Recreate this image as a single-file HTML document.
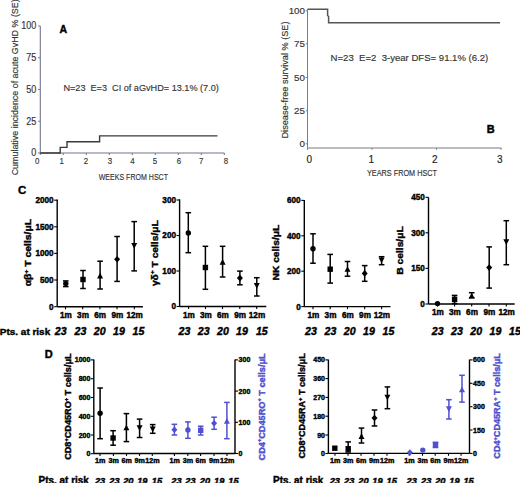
<!DOCTYPE html>
<html><head><meta charset="utf-8"><style>
html,body{margin:0;padding:0;background:#fff;width:520px;height:483px;overflow:hidden;font-family:"Liberation Sans", sans-serif;}
</style></head><body>
<svg width="520" height="483" viewBox="0 0 520 483" style="position:absolute;left:0;top:0;font-family:&quot;Liberation Sans&quot;, sans-serif">
<rect width="520" height="483" fill="#fff"/>
<line x1="40.3" y1="26.0" x2="40.3" y2="153.5" stroke="#74748e" stroke-width="1.1"/>
<line x1="40.3" y1="153.0" x2="224.3" y2="153.0" stroke="#74748e" stroke-width="1.1"/>
<line x1="38.1" y1="153.0" x2="40.3" y2="153.0" stroke="#74748e" stroke-width="1"/>
<text x="36.2" y="156.3" font-size="10.4" font-weight="normal" text-anchor="end" fill="#333" font-style="normal" stroke="#333" stroke-width="0.15" textLength="5.0" lengthAdjust="spacingAndGlyphs" >0</text>
<line x1="38.1" y1="121.25" x2="40.3" y2="121.25" stroke="#74748e" stroke-width="1"/>
<text x="36.2" y="124.55" font-size="10.4" font-weight="normal" text-anchor="end" fill="#333" font-style="normal" stroke="#333" stroke-width="0.15" textLength="10.0" lengthAdjust="spacingAndGlyphs" >25</text>
<line x1="38.1" y1="89.5" x2="40.3" y2="89.5" stroke="#74748e" stroke-width="1"/>
<text x="36.2" y="92.8" font-size="10.4" font-weight="normal" text-anchor="end" fill="#333" font-style="normal" stroke="#333" stroke-width="0.15" textLength="10.0" lengthAdjust="spacingAndGlyphs" >50</text>
<line x1="38.1" y1="57.75" x2="40.3" y2="57.75" stroke="#74748e" stroke-width="1"/>
<text x="36.2" y="61.05" font-size="10.4" font-weight="normal" text-anchor="end" fill="#333" font-style="normal" stroke="#333" stroke-width="0.15" textLength="10.0" lengthAdjust="spacingAndGlyphs" >75</text>
<line x1="38.1" y1="26.0" x2="40.3" y2="26.0" stroke="#74748e" stroke-width="1"/>
<text x="36.2" y="29.3" font-size="10.4" font-weight="normal" text-anchor="end" fill="#333" font-style="normal" stroke="#333" stroke-width="0.15" textLength="15.0" lengthAdjust="spacingAndGlyphs" >100</text>
<line x1="40.3" y1="153.0" x2="40.3" y2="155.0" stroke="#74748e" stroke-width="1"/>
<text x="37.2" y="164.4" font-size="9.2" font-weight="normal" text-anchor="middle" fill="#333" font-style="normal" stroke="#333" stroke-width="0.15" textLength="4.4" lengthAdjust="spacingAndGlyphs" >0</text>
<line x1="63.3" y1="153.0" x2="63.3" y2="155.0" stroke="#74748e" stroke-width="1"/>
<text x="61.6" y="164.4" font-size="9.2" font-weight="normal" text-anchor="middle" fill="#333" font-style="normal" stroke="#333" stroke-width="0.15" textLength="4.4" lengthAdjust="spacingAndGlyphs" >1</text>
<line x1="86.3" y1="153.0" x2="86.3" y2="155.0" stroke="#74748e" stroke-width="1"/>
<text x="85.9" y="164.4" font-size="9.2" font-weight="normal" text-anchor="middle" fill="#333" font-style="normal" stroke="#333" stroke-width="0.15" textLength="4.4" lengthAdjust="spacingAndGlyphs" >2</text>
<line x1="109.3" y1="153.0" x2="109.3" y2="155.0" stroke="#74748e" stroke-width="1"/>
<text x="110.0" y="164.4" font-size="9.2" font-weight="normal" text-anchor="middle" fill="#333" font-style="normal" stroke="#333" stroke-width="0.15" textLength="4.4" lengthAdjust="spacingAndGlyphs" >3</text>
<line x1="132.3" y1="153.0" x2="132.3" y2="155.0" stroke="#74748e" stroke-width="1"/>
<text x="132.4" y="164.4" font-size="9.2" font-weight="normal" text-anchor="middle" fill="#333" font-style="normal" stroke="#333" stroke-width="0.15" textLength="4.4" lengthAdjust="spacingAndGlyphs" >4</text>
<line x1="155.3" y1="153.0" x2="155.3" y2="155.0" stroke="#74748e" stroke-width="1"/>
<text x="154.9" y="164.4" font-size="9.2" font-weight="normal" text-anchor="middle" fill="#333" font-style="normal" stroke="#333" stroke-width="0.15" textLength="4.4" lengthAdjust="spacingAndGlyphs" >5</text>
<line x1="178.3" y1="153.0" x2="178.3" y2="155.0" stroke="#74748e" stroke-width="1"/>
<text x="179.0" y="164.4" font-size="9.2" font-weight="normal" text-anchor="middle" fill="#333" font-style="normal" stroke="#333" stroke-width="0.15" textLength="4.4" lengthAdjust="spacingAndGlyphs" >6</text>
<line x1="201.3" y1="153.0" x2="201.3" y2="155.0" stroke="#74748e" stroke-width="1"/>
<text x="201.1" y="164.4" font-size="9.2" font-weight="normal" text-anchor="middle" fill="#333" font-style="normal" stroke="#333" stroke-width="0.15" textLength="4.4" lengthAdjust="spacingAndGlyphs" >7</text>
<line x1="224.3" y1="153.0" x2="224.3" y2="155.0" stroke="#74748e" stroke-width="1"/>
<text x="226.0" y="164.4" font-size="9.2" font-weight="normal" text-anchor="middle" fill="#333" font-style="normal" stroke="#333" stroke-width="0.15" textLength="4.4" lengthAdjust="spacingAndGlyphs" >8</text>
<text x="98.7" y="180.2" font-size="8.6" font-weight="normal" text-anchor="start" fill="#333" font-style="normal" stroke="#333" stroke-width="0.15" textLength="69.3" lengthAdjust="spacingAndGlyphs" >WEEKS FROM HSCT</text>
<text x="59.6" y="33.4" font-size="10.5" font-weight="bold" text-anchor="start" fill="#000" font-style="normal" stroke="#000" stroke-width="0.4" >A</text>
<text x="63.4" y="90.5" font-size="9.4" font-weight="normal" text-anchor="start" fill="#333" font-style="normal" stroke="#333" stroke-width="0.15" textLength="155.4" lengthAdjust="spacingAndGlyphs" xml:space="preserve">N=23&#160;&#160;E=3&#160;&#160;CI of aGvHD= 13.1% (7.0)</text>
<text transform="translate(17.6,87.3) rotate(-90)" x="0" y="0" font-size="8.8" font-weight="normal" text-anchor="middle" fill="#333" stroke="#333" stroke-width="0.15" textLength="176" lengthAdjust="spacingAndGlyphs">Cumulative incidence of acute GvHD % (SE)</text>
<polyline points="40.3,153.0 60.2,153.0 60.2,147.4 67.0,147.4 67.0,141.7 99.6,141.7 99.6,135.9 217.5,135.9" fill="none" stroke="#3a3a3a" stroke-width="1.4"/>
<line x1="307.5" y1="9.3" x2="307.5" y2="148.0" stroke="#7c7c8c" stroke-width="1"/>
<line x1="307.5" y1="148.0" x2="501.5" y2="148.0" stroke="#a4a4ac" stroke-width="1.5"/>
<line x1="305.7" y1="10.8" x2="307.5" y2="10.8" stroke="#7c7c8c" stroke-width="1"/>
<text x="305.0" y="14.3" font-size="9.8" font-weight="normal" text-anchor="end" fill="#333" font-style="normal" stroke="#333" stroke-width="0.15" >100</text>
<line x1="305.7" y1="43.8" x2="307.5" y2="43.8" stroke="#7c7c8c" stroke-width="1"/>
<text x="305.0" y="47.3" font-size="9.8" font-weight="normal" text-anchor="end" fill="#333" font-style="normal" stroke="#333" stroke-width="0.15" >75</text>
<line x1="305.7" y1="77.5" x2="307.5" y2="77.5" stroke="#7c7c8c" stroke-width="1"/>
<text x="305.0" y="81.0" font-size="9.8" font-weight="normal" text-anchor="end" fill="#333" font-style="normal" stroke="#333" stroke-width="0.15" >50</text>
<line x1="305.7" y1="110.8" x2="307.5" y2="110.8" stroke="#7c7c8c" stroke-width="1"/>
<text x="305.0" y="114.3" font-size="9.8" font-weight="normal" text-anchor="end" fill="#333" font-style="normal" stroke="#333" stroke-width="0.15" >25</text>
<line x1="305.7" y1="143.8" x2="307.5" y2="143.8" stroke="#7c7c8c" stroke-width="1"/>
<text x="305.0" y="147.3" font-size="9.8" font-weight="normal" text-anchor="end" fill="#333" font-style="normal" stroke="#333" stroke-width="0.15" >0</text>
<line x1="307.5" y1="148.0" x2="307.5" y2="149.8" stroke="#7c7c8c" stroke-width="1"/>
<text x="309.2" y="162.8" font-size="10" font-weight="normal" text-anchor="middle" fill="#222" font-style="normal" stroke="#222" stroke-width="0.15" >0</text>
<line x1="372" y1="148.0" x2="372" y2="149.8" stroke="#7c7c8c" stroke-width="1"/>
<text x="371.2" y="162.8" font-size="10" font-weight="normal" text-anchor="middle" fill="#222" font-style="normal" stroke="#222" stroke-width="0.15" >1</text>
<line x1="436.5" y1="148.0" x2="436.5" y2="149.8" stroke="#7c7c8c" stroke-width="1"/>
<text x="434.8" y="162.8" font-size="10" font-weight="normal" text-anchor="middle" fill="#222" font-style="normal" stroke="#222" stroke-width="0.15" >2</text>
<line x1="501" y1="148.0" x2="501" y2="149.8" stroke="#7c7c8c" stroke-width="1"/>
<text x="499.8" y="162.8" font-size="10" font-weight="normal" text-anchor="middle" fill="#222" font-style="normal" stroke="#222" stroke-width="0.15" >3</text>
<text x="367.0" y="175.5" font-size="8.6" font-weight="normal" text-anchor="start" fill="#333" font-style="normal" stroke="#333" stroke-width="0.15" textLength="70" lengthAdjust="spacingAndGlyphs" >YEARS FROM HSCT</text>
<text x="486.8" y="133.3" font-size="11" font-weight="bold" text-anchor="start" fill="#000" font-style="normal" stroke="#000" stroke-width="0.4" >B</text>
<text x="330.6" y="60.8" font-size="9.6" font-weight="normal" text-anchor="start" fill="#333" font-style="normal" stroke="#333" stroke-width="0.15" textLength="157.7" lengthAdjust="spacingAndGlyphs" >N=23&#160;&#160;E=2&#160;&#160;3-year DFS= 91.1% (6.2)</text>
<text transform="translate(287.6,80.0) rotate(-90)" x="0" y="0" font-size="8.8" font-weight="normal" text-anchor="middle" fill="#333" stroke="#333" stroke-width="0.15" textLength="117" lengthAdjust="spacingAndGlyphs">Disease-free survival % (SE)</text>
<polyline points="307.5,9.3 327.6,9.3 327.6,15.4 328.6,16.5 328.6,22.8 500,22.8" fill="none" stroke="#555" stroke-width="1.5"/>
<text x="17.9" y="194.4" font-size="11.5" font-weight="bold" text-anchor="start" fill="#000" font-style="normal" stroke="#000" stroke-width="0.4" >C</text>
<line x1="57.2" y1="199.5" x2="57.2" y2="306.7" stroke="#000" stroke-width="1.4"/>
<line x1="57.2" y1="306.7" x2="142.9" y2="306.7" stroke="#000" stroke-width="1.4"/>
<line x1="54.2" y1="200.2" x2="57.2" y2="200.2" stroke="#000" stroke-width="1.1"/>
<text x="53.6" y="203.1" font-size="8.2" font-weight="bold" text-anchor="end" fill="#000" font-style="normal" stroke="#000" stroke-width="0.4" >2000</text>
<line x1="54.2" y1="226.8" x2="57.2" y2="226.8" stroke="#000" stroke-width="1.1"/>
<text x="53.6" y="229.70000000000002" font-size="8.2" font-weight="bold" text-anchor="end" fill="#000" font-style="normal" stroke="#000" stroke-width="0.4" >1500</text>
<line x1="54.2" y1="253.4" x2="57.2" y2="253.4" stroke="#000" stroke-width="1.1"/>
<text x="53.6" y="256.3" font-size="8.2" font-weight="bold" text-anchor="end" fill="#000" font-style="normal" stroke="#000" stroke-width="0.4" >1000</text>
<line x1="54.2" y1="280.0" x2="57.2" y2="280.0" stroke="#000" stroke-width="1.1"/>
<text x="53.6" y="282.9" font-size="8.2" font-weight="bold" text-anchor="end" fill="#000" font-style="normal" stroke="#000" stroke-width="0.4" >500</text>
<line x1="54.2" y1="306.7" x2="57.2" y2="306.7" stroke="#000" stroke-width="1.1"/>
<text x="53.6" y="309.59999999999997" font-size="8.2" font-weight="bold" text-anchor="end" fill="#000" font-style="normal" stroke="#000" stroke-width="0.4" >0</text>
<line x1="65.5" y1="306.7" x2="65.5" y2="309.3" stroke="#000" stroke-width="1.1"/>
<text x="65.8" y="317.9" font-size="8.2" font-weight="bold" text-anchor="middle" fill="#000" font-style="normal" stroke="#000" stroke-width="0.4" >1m</text>
<line x1="82.7" y1="306.7" x2="82.7" y2="309.3" stroke="#000" stroke-width="1.1"/>
<text x="83.0" y="317.9" font-size="8.2" font-weight="bold" text-anchor="middle" fill="#000" font-style="normal" stroke="#000" stroke-width="0.4" >3m</text>
<line x1="99.9" y1="306.7" x2="99.9" y2="309.3" stroke="#000" stroke-width="1.1"/>
<text x="100.2" y="317.9" font-size="8.2" font-weight="bold" text-anchor="middle" fill="#000" font-style="normal" stroke="#000" stroke-width="0.4" >6m</text>
<line x1="117.0" y1="306.7" x2="117.0" y2="309.3" stroke="#000" stroke-width="1.1"/>
<text x="117.3" y="317.9" font-size="8.2" font-weight="bold" text-anchor="middle" fill="#000" font-style="normal" stroke="#000" stroke-width="0.4" >9m</text>
<line x1="134.3" y1="306.7" x2="134.3" y2="309.3" stroke="#000" stroke-width="1.1"/>
<text x="134.60000000000002" y="317.9" font-size="8.2" font-weight="bold" text-anchor="middle" fill="#000" font-style="normal" stroke="#000" stroke-width="0.4" >12m</text>
<line x1="65.8" y1="280.9" x2="65.8" y2="286.6" stroke="#000" stroke-width="1.5"/>
<line x1="63.0" y1="280.9" x2="68.6" y2="280.9" stroke="#000" stroke-width="1.5"/>
<line x1="63.0" y1="286.6" x2="68.6" y2="286.6" stroke="#000" stroke-width="1.5"/>
<circle cx="65.8" cy="283.6" r="2.7" fill="#000"/>
<line x1="83.0" y1="270.5" x2="83.0" y2="288.5" stroke="#000" stroke-width="1.5"/>
<line x1="80.2" y1="270.5" x2="85.8" y2="270.5" stroke="#000" stroke-width="1.5"/>
<line x1="80.2" y1="288.5" x2="85.8" y2="288.5" stroke="#000" stroke-width="1.5"/>
<rect x="80.3" y="276.8" width="5.4" height="5.4" fill="#000"/>
<line x1="100.1" y1="261.2" x2="100.1" y2="289.0" stroke="#000" stroke-width="1.5"/>
<line x1="97.3" y1="261.2" x2="102.9" y2="261.2" stroke="#000" stroke-width="1.5"/>
<line x1="97.3" y1="289.0" x2="102.9" y2="289.0" stroke="#000" stroke-width="1.5"/>
<polygon points="97.1,278.55 103.1,278.55 100.1,272.85" fill="#000"/>
<line x1="117.1" y1="236.5" x2="117.1" y2="281.4" stroke="#000" stroke-width="1.5"/>
<line x1="114.3" y1="236.5" x2="119.9" y2="236.5" stroke="#000" stroke-width="1.5"/>
<line x1="114.3" y1="281.4" x2="119.9" y2="281.4" stroke="#000" stroke-width="1.5"/>
<polygon points="117.1,255.89999999999998 120.1,259.2 117.1,262.5 114.1,259.2" fill="#000"/>
<line x1="134.2" y1="221.6" x2="134.2" y2="270.9" stroke="#000" stroke-width="1.5"/>
<line x1="131.4" y1="221.6" x2="137.0" y2="221.6" stroke="#000" stroke-width="1.5"/>
<line x1="131.4" y1="270.9" x2="137.0" y2="270.9" stroke="#000" stroke-width="1.5"/>
<polygon points="131.2,243.04999999999998 137.2,243.04999999999998 134.2,248.75" fill="#000"/>
<text transform="translate(31.2,252.6) rotate(-90)" font-size="9" font-weight="bold" stroke="#000" stroke-width="0.4" text-anchor="middle" textLength="67.5" lengthAdjust="spacingAndGlyphs">αβ<tspan dy="-3.5" font-size="6">+</tspan><tspan dy="3.5"> T cells/μL</tspan></text>
<text x="60.699999999999996" y="335.0" font-size="10.6" font-weight="bold" text-anchor="middle" fill="#000" font-style="italic" stroke="#000" stroke-width="0.4" >23</text>
<text x="80.5" y="335.0" font-size="10.6" font-weight="bold" text-anchor="middle" fill="#000" font-style="italic" stroke="#000" stroke-width="0.4" >23</text>
<text x="99.7" y="335.0" font-size="10.6" font-weight="bold" text-anchor="middle" fill="#000" font-style="italic" stroke="#000" stroke-width="0.4" >20</text>
<text x="119.0" y="335.0" font-size="10.6" font-weight="bold" text-anchor="middle" fill="#000" font-style="italic" stroke="#000" stroke-width="0.4" >19</text>
<text x="138.4" y="335.0" font-size="10.6" font-weight="bold" text-anchor="middle" fill="#000" font-style="italic" stroke="#000" stroke-width="0.4" >15</text>
<line x1="179.6" y1="199.3" x2="179.6" y2="306.5" stroke="#000" stroke-width="1.4"/>
<line x1="179.6" y1="306.5" x2="266.3" y2="306.5" stroke="#000" stroke-width="1.4"/>
<line x1="176.6" y1="200.0" x2="179.6" y2="200.0" stroke="#000" stroke-width="1.1"/>
<text x="176.0" y="202.9" font-size="8.2" font-weight="bold" text-anchor="end" fill="#000" font-style="normal" stroke="#000" stroke-width="0.4" >300</text>
<line x1="176.6" y1="235.5" x2="179.6" y2="235.5" stroke="#000" stroke-width="1.1"/>
<text x="176.0" y="238.4" font-size="8.2" font-weight="bold" text-anchor="end" fill="#000" font-style="normal" stroke="#000" stroke-width="0.4" >200</text>
<line x1="176.6" y1="271.0" x2="179.6" y2="271.0" stroke="#000" stroke-width="1.1"/>
<text x="176.0" y="273.9" font-size="8.2" font-weight="bold" text-anchor="end" fill="#000" font-style="normal" stroke="#000" stroke-width="0.4" >100</text>
<line x1="176.6" y1="306.5" x2="179.6" y2="306.5" stroke="#000" stroke-width="1.1"/>
<text x="176.0" y="309.4" font-size="8.2" font-weight="bold" text-anchor="end" fill="#000" font-style="normal" stroke="#000" stroke-width="0.4" >0</text>
<line x1="188.6" y1="306.5" x2="188.6" y2="309.1" stroke="#000" stroke-width="1.1"/>
<text x="188.9" y="317.7" font-size="8.2" font-weight="bold" text-anchor="middle" fill="#000" font-style="normal" stroke="#000" stroke-width="0.4" >1m</text>
<line x1="205.5" y1="306.5" x2="205.5" y2="309.1" stroke="#000" stroke-width="1.1"/>
<text x="205.8" y="317.7" font-size="8.2" font-weight="bold" text-anchor="middle" fill="#000" font-style="normal" stroke="#000" stroke-width="0.4" >3m</text>
<line x1="222.5" y1="306.5" x2="222.5" y2="309.1" stroke="#000" stroke-width="1.1"/>
<text x="222.8" y="317.7" font-size="8.2" font-weight="bold" text-anchor="middle" fill="#000" font-style="normal" stroke="#000" stroke-width="0.4" >6m</text>
<line x1="239.8" y1="306.5" x2="239.8" y2="309.1" stroke="#000" stroke-width="1.1"/>
<text x="240.10000000000002" y="317.7" font-size="8.2" font-weight="bold" text-anchor="middle" fill="#000" font-style="normal" stroke="#000" stroke-width="0.4" >9m</text>
<line x1="256.7" y1="306.5" x2="256.7" y2="309.1" stroke="#000" stroke-width="1.1"/>
<text x="257.0" y="317.7" font-size="8.2" font-weight="bold" text-anchor="middle" fill="#000" font-style="normal" stroke="#000" stroke-width="0.4" >12m</text>
<line x1="188.3" y1="212.7" x2="188.3" y2="252.7" stroke="#000" stroke-width="1.5"/>
<line x1="185.5" y1="212.7" x2="191.1" y2="212.7" stroke="#000" stroke-width="1.5"/>
<line x1="185.5" y1="252.7" x2="191.1" y2="252.7" stroke="#000" stroke-width="1.5"/>
<circle cx="188.3" cy="232.9" r="2.7" fill="#000"/>
<line x1="205.4" y1="246.3" x2="205.4" y2="289.3" stroke="#000" stroke-width="1.5"/>
<line x1="202.6" y1="246.3" x2="208.2" y2="246.3" stroke="#000" stroke-width="1.5"/>
<line x1="202.6" y1="289.3" x2="208.2" y2="289.3" stroke="#000" stroke-width="1.5"/>
<rect x="202.70000000000002" y="264.8" width="5.4" height="5.4" fill="#000"/>
<line x1="222.6" y1="246.3" x2="222.6" y2="277.0" stroke="#000" stroke-width="1.5"/>
<line x1="219.8" y1="246.3" x2="225.4" y2="246.3" stroke="#000" stroke-width="1.5"/>
<line x1="219.8" y1="277.0" x2="225.4" y2="277.0" stroke="#000" stroke-width="1.5"/>
<polygon points="219.6,264.75 225.6,264.75 222.6,259.05" fill="#000"/>
<line x1="239.9" y1="271.1" x2="239.9" y2="284.8" stroke="#000" stroke-width="1.5"/>
<line x1="237.1" y1="271.1" x2="242.7" y2="271.1" stroke="#000" stroke-width="1.5"/>
<line x1="237.1" y1="284.8" x2="242.7" y2="284.8" stroke="#000" stroke-width="1.5"/>
<polygon points="239.9,274.8 242.9,278.1 239.9,281.40000000000003 236.9,278.1" fill="#000"/>
<line x1="256.8" y1="277.7" x2="256.8" y2="296.0" stroke="#000" stroke-width="1.5"/>
<line x1="254.0" y1="277.7" x2="259.6" y2="277.7" stroke="#000" stroke-width="1.5"/>
<line x1="254.0" y1="296.0" x2="259.6" y2="296.0" stroke="#000" stroke-width="1.5"/>
<polygon points="253.8,282.95 259.8,282.95 256.8,288.65" fill="#000"/>
<text transform="translate(157.5,253.2) rotate(-90)" font-size="9" font-weight="bold" stroke="#000" stroke-width="0.4" text-anchor="middle" textLength="65.8" lengthAdjust="spacingAndGlyphs">γδ<tspan dy="-3.5" font-size="6">+</tspan><tspan dy="3.5"> T cells/μL</tspan></text>
<text x="184.4" y="335.0" font-size="10.6" font-weight="bold" text-anchor="middle" fill="#000" font-style="italic" stroke="#000" stroke-width="0.4" >23</text>
<text x="203.70000000000002" y="335.0" font-size="10.6" font-weight="bold" text-anchor="middle" fill="#000" font-style="italic" stroke="#000" stroke-width="0.4" >23</text>
<text x="222.9" y="335.0" font-size="10.6" font-weight="bold" text-anchor="middle" fill="#000" font-style="italic" stroke="#000" stroke-width="0.4" >20</text>
<text x="242.0" y="335.0" font-size="10.6" font-weight="bold" text-anchor="middle" fill="#000" font-style="italic" stroke="#000" stroke-width="0.4" >19</text>
<text x="261.79999999999995" y="335.0" font-size="10.6" font-weight="bold" text-anchor="middle" fill="#000" font-style="italic" stroke="#000" stroke-width="0.4" >15</text>
<line x1="304.3" y1="200.0" x2="304.3" y2="306.6" stroke="#000" stroke-width="1.4"/>
<line x1="304.3" y1="306.6" x2="390.5" y2="306.6" stroke="#000" stroke-width="1.4"/>
<line x1="301.3" y1="200.4" x2="304.3" y2="200.4" stroke="#000" stroke-width="1.1"/>
<text x="300.7" y="203.3" font-size="8.2" font-weight="bold" text-anchor="end" fill="#000" font-style="normal" stroke="#000" stroke-width="0.4" >600</text>
<line x1="301.3" y1="235.8" x2="304.3" y2="235.8" stroke="#000" stroke-width="1.1"/>
<text x="300.7" y="238.70000000000002" font-size="8.2" font-weight="bold" text-anchor="end" fill="#000" font-style="normal" stroke="#000" stroke-width="0.4" >400</text>
<line x1="301.3" y1="271.2" x2="304.3" y2="271.2" stroke="#000" stroke-width="1.1"/>
<text x="300.7" y="274.09999999999997" font-size="8.2" font-weight="bold" text-anchor="end" fill="#000" font-style="normal" stroke="#000" stroke-width="0.4" >200</text>
<line x1="301.3" y1="306.6" x2="304.3" y2="306.6" stroke="#000" stroke-width="1.1"/>
<text x="300.7" y="309.5" font-size="8.2" font-weight="bold" text-anchor="end" fill="#000" font-style="normal" stroke="#000" stroke-width="0.4" >0</text>
<line x1="313.0" y1="306.6" x2="313.0" y2="309.2" stroke="#000" stroke-width="1.1"/>
<text x="313.3" y="317.8" font-size="8.2" font-weight="bold" text-anchor="middle" fill="#000" font-style="normal" stroke="#000" stroke-width="0.4" >1m</text>
<line x1="330.2" y1="306.6" x2="330.2" y2="309.2" stroke="#000" stroke-width="1.1"/>
<text x="330.5" y="317.8" font-size="8.2" font-weight="bold" text-anchor="middle" fill="#000" font-style="normal" stroke="#000" stroke-width="0.4" >3m</text>
<line x1="347.5" y1="306.6" x2="347.5" y2="309.2" stroke="#000" stroke-width="1.1"/>
<text x="347.8" y="317.8" font-size="8.2" font-weight="bold" text-anchor="middle" fill="#000" font-style="normal" stroke="#000" stroke-width="0.4" >6m</text>
<line x1="364.7" y1="306.6" x2="364.7" y2="309.2" stroke="#000" stroke-width="1.1"/>
<text x="365.0" y="317.8" font-size="8.2" font-weight="bold" text-anchor="middle" fill="#000" font-style="normal" stroke="#000" stroke-width="0.4" >9m</text>
<line x1="381.6" y1="306.6" x2="381.6" y2="309.2" stroke="#000" stroke-width="1.1"/>
<text x="381.90000000000003" y="317.8" font-size="8.2" font-weight="bold" text-anchor="middle" fill="#000" font-style="normal" stroke="#000" stroke-width="0.4" >12m</text>
<line x1="313.0" y1="233.8" x2="313.0" y2="263.2" stroke="#000" stroke-width="1.5"/>
<line x1="310.2" y1="233.8" x2="315.8" y2="233.8" stroke="#000" stroke-width="1.5"/>
<line x1="310.2" y1="263.2" x2="315.8" y2="263.2" stroke="#000" stroke-width="1.5"/>
<circle cx="313.0" cy="248.7" r="2.7" fill="#000"/>
<line x1="330.2" y1="254.4" x2="330.2" y2="283.1" stroke="#000" stroke-width="1.5"/>
<line x1="327.4" y1="254.4" x2="333.0" y2="254.4" stroke="#000" stroke-width="1.5"/>
<line x1="327.4" y1="283.1" x2="333.0" y2="283.1" stroke="#000" stroke-width="1.5"/>
<rect x="327.5" y="266.5" width="5.4" height="5.4" fill="#000"/>
<line x1="347.5" y1="261.5" x2="347.5" y2="276.2" stroke="#000" stroke-width="1.5"/>
<line x1="344.7" y1="261.5" x2="350.3" y2="261.5" stroke="#000" stroke-width="1.5"/>
<line x1="344.7" y1="276.2" x2="350.3" y2="276.2" stroke="#000" stroke-width="1.5"/>
<polygon points="344.5,271.85 350.5,271.85 347.5,266.15000000000003" fill="#000"/>
<line x1="364.7" y1="265.6" x2="364.7" y2="281.3" stroke="#000" stroke-width="1.5"/>
<line x1="361.9" y1="265.6" x2="367.5" y2="265.6" stroke="#000" stroke-width="1.5"/>
<line x1="361.9" y1="281.3" x2="367.5" y2="281.3" stroke="#000" stroke-width="1.5"/>
<polygon points="364.7,270.09999999999997 367.7,273.4 364.7,276.7 361.7,273.4" fill="#000"/>
<line x1="381.6" y1="256.7" x2="381.6" y2="264.7" stroke="#000" stroke-width="1.5"/>
<line x1="378.8" y1="256.7" x2="384.4" y2="256.7" stroke="#000" stroke-width="1.5"/>
<line x1="378.8" y1="264.7" x2="384.4" y2="264.7" stroke="#000" stroke-width="1.5"/>
<polygon points="378.6,257.45 384.6,257.45 381.6,263.15" fill="#000"/>
<text transform="translate(279.0,252.6) rotate(-90)" font-size="9" font-weight="bold" stroke="#000" stroke-width="0.4" text-anchor="middle" textLength="55.6" lengthAdjust="spacingAndGlyphs">NK cells/μL</text>
<text x="311.0" y="335.0" font-size="10.6" font-weight="bold" text-anchor="middle" fill="#000" font-style="italic" stroke="#000" stroke-width="0.4" >23</text>
<text x="330.5" y="335.0" font-size="10.6" font-weight="bold" text-anchor="middle" fill="#000" font-style="italic" stroke="#000" stroke-width="0.4" >23</text>
<text x="349.7" y="335.0" font-size="10.6" font-weight="bold" text-anchor="middle" fill="#000" font-style="italic" stroke="#000" stroke-width="0.4" >20</text>
<text x="369.0" y="335.0" font-size="10.6" font-weight="bold" text-anchor="middle" fill="#000" font-style="italic" stroke="#000" stroke-width="0.4" >19</text>
<text x="388.4" y="335.0" font-size="10.6" font-weight="bold" text-anchor="middle" fill="#000" font-style="italic" stroke="#000" stroke-width="0.4" >15</text>
<line x1="428.5" y1="197.3" x2="428.5" y2="304.0" stroke="#000" stroke-width="1.4"/>
<line x1="428.5" y1="304.0" x2="514.7" y2="304.0" stroke="#000" stroke-width="1.4"/>
<line x1="425.5" y1="197.3" x2="428.5" y2="197.3" stroke="#000" stroke-width="1.1"/>
<text x="424.9" y="200.20000000000002" font-size="8.2" font-weight="bold" text-anchor="end" fill="#000" font-style="normal" stroke="#000" stroke-width="0.4" >450</text>
<line x1="425.5" y1="232.8" x2="428.5" y2="232.8" stroke="#000" stroke-width="1.1"/>
<text x="424.9" y="235.70000000000002" font-size="8.2" font-weight="bold" text-anchor="end" fill="#000" font-style="normal" stroke="#000" stroke-width="0.4" >300</text>
<line x1="425.5" y1="268.4" x2="428.5" y2="268.4" stroke="#000" stroke-width="1.1"/>
<text x="424.9" y="271.29999999999995" font-size="8.2" font-weight="bold" text-anchor="end" fill="#000" font-style="normal" stroke="#000" stroke-width="0.4" >150</text>
<line x1="425.5" y1="304.0" x2="428.5" y2="304.0" stroke="#000" stroke-width="1.1"/>
<text x="424.9" y="306.9" font-size="8.2" font-weight="bold" text-anchor="end" fill="#000" font-style="normal" stroke="#000" stroke-width="0.4" >0</text>
<line x1="437.5" y1="304.0" x2="437.5" y2="306.6" stroke="#000" stroke-width="1.1"/>
<text x="437.8" y="315.2" font-size="8.2" font-weight="bold" text-anchor="middle" fill="#000" font-style="normal" stroke="#000" stroke-width="0.4" >1m</text>
<line x1="454.6" y1="304.0" x2="454.6" y2="306.6" stroke="#000" stroke-width="1.1"/>
<text x="454.90000000000003" y="315.2" font-size="8.2" font-weight="bold" text-anchor="middle" fill="#000" font-style="normal" stroke="#000" stroke-width="0.4" >3m</text>
<line x1="471.7" y1="304.0" x2="471.7" y2="306.6" stroke="#000" stroke-width="1.1"/>
<text x="472.0" y="315.2" font-size="8.2" font-weight="bold" text-anchor="middle" fill="#000" font-style="normal" stroke="#000" stroke-width="0.4" >6m</text>
<line x1="489.0" y1="304.0" x2="489.0" y2="306.6" stroke="#000" stroke-width="1.1"/>
<text x="489.3" y="315.2" font-size="8.2" font-weight="bold" text-anchor="middle" fill="#000" font-style="normal" stroke="#000" stroke-width="0.4" >9m</text>
<line x1="506.3" y1="304.0" x2="506.3" y2="306.6" stroke="#000" stroke-width="1.1"/>
<text x="506.6" y="315.2" font-size="8.2" font-weight="bold" text-anchor="middle" fill="#000" font-style="normal" stroke="#000" stroke-width="0.4" >12m</text>
<circle cx="437.5" cy="303.6" r="2.7" fill="#000"/>
<line x1="454.6" y1="295.4" x2="454.6" y2="303.5" stroke="#000" stroke-width="1.5"/>
<line x1="451.8" y1="295.4" x2="457.4" y2="295.4" stroke="#000" stroke-width="1.5"/>
<line x1="451.8" y1="303.5" x2="457.4" y2="303.5" stroke="#000" stroke-width="1.5"/>
<rect x="451.90000000000003" y="296.6" width="5.4" height="5.4" fill="#000"/>
<line x1="471.7" y1="292.7" x2="471.7" y2="297.7" stroke="#000" stroke-width="1.5"/>
<line x1="468.9" y1="292.7" x2="474.5" y2="292.7" stroke="#000" stroke-width="1.5"/>
<line x1="468.9" y1="297.7" x2="474.5" y2="297.7" stroke="#000" stroke-width="1.5"/>
<polygon points="468.7,298.45 474.7,298.45 471.7,292.75" fill="#000"/>
<line x1="489.2" y1="246.9" x2="489.2" y2="288.1" stroke="#000" stroke-width="1.5"/>
<line x1="486.4" y1="246.9" x2="492.0" y2="246.9" stroke="#000" stroke-width="1.5"/>
<line x1="486.4" y1="288.1" x2="492.0" y2="288.1" stroke="#000" stroke-width="1.5"/>
<polygon points="489.2,264.3 492.2,267.6 489.2,270.90000000000003 486.2,267.6" fill="#000"/>
<line x1="506.3" y1="220.7" x2="506.3" y2="264.7" stroke="#000" stroke-width="1.5"/>
<line x1="503.5" y1="220.7" x2="509.1" y2="220.7" stroke="#000" stroke-width="1.5"/>
<line x1="503.5" y1="264.7" x2="509.1" y2="264.7" stroke="#000" stroke-width="1.5"/>
<polygon points="503.3,239.35 509.3,239.35 506.3,245.05" fill="#000"/>
<text transform="translate(402.9,250.5) rotate(-90)" font-size="9" font-weight="bold" stroke="#000" stroke-width="0.4" text-anchor="middle" textLength="48.5" lengthAdjust="spacingAndGlyphs">B cells/μL</text>
<text x="437.7" y="335.0" font-size="10.6" font-weight="bold" text-anchor="middle" fill="#000" font-style="italic" stroke="#000" stroke-width="0.4" >23</text>
<text x="457.0" y="335.0" font-size="10.6" font-weight="bold" text-anchor="middle" fill="#000" font-style="italic" stroke="#000" stroke-width="0.4" >23</text>
<text x="476.2" y="335.0" font-size="10.6" font-weight="bold" text-anchor="middle" fill="#000" font-style="italic" stroke="#000" stroke-width="0.4" >20</text>
<text x="495.4" y="335.0" font-size="10.6" font-weight="bold" text-anchor="middle" fill="#000" font-style="italic" stroke="#000" stroke-width="0.4" >19</text>
<text x="514.9" y="335.0" font-size="10.6" font-weight="bold" text-anchor="middle" fill="#000" font-style="italic" stroke="#000" stroke-width="0.4" >15</text>
<text x="-0.2" y="334.8" font-size="9.8" font-weight="bold" text-anchor="start" fill="#000" font-style="normal" stroke="#000" stroke-width="0.4" textLength="50.4" lengthAdjust="spacingAndGlyphs" >Pts. at risk</text>
<text x="44.8" y="357.6" font-size="11" font-weight="bold" text-anchor="start" fill="#000" font-style="normal" stroke="#000" stroke-width="0.4" >D</text>
<line x1="93.8" y1="359.6" x2="93.8" y2="453.5" stroke="#000" stroke-width="1.4"/>
<line x1="93.8" y1="453.5" x2="235.0" y2="453.5" stroke="#000" stroke-width="1.4"/>
<line x1="235.0" y1="359.6" x2="235.0" y2="453.5" stroke="#000" stroke-width="1.4"/>
<line x1="90.8" y1="359.9" x2="93.8" y2="359.9" stroke="#000" stroke-width="1.1"/>
<text x="90.39999999999999" y="362.4" font-size="7" font-weight="bold" text-anchor="end" fill="#000" font-style="normal" stroke="#000" stroke-width="0.4" >1000</text>
<line x1="90.8" y1="378.7" x2="93.8" y2="378.7" stroke="#000" stroke-width="1.1"/>
<text x="90.39999999999999" y="381.2" font-size="7" font-weight="bold" text-anchor="end" fill="#000" font-style="normal" stroke="#000" stroke-width="0.4" >800</text>
<line x1="90.8" y1="397.5" x2="93.8" y2="397.5" stroke="#000" stroke-width="1.1"/>
<text x="90.39999999999999" y="400.0" font-size="7" font-weight="bold" text-anchor="end" fill="#000" font-style="normal" stroke="#000" stroke-width="0.4" >600</text>
<line x1="90.8" y1="416.3" x2="93.8" y2="416.3" stroke="#000" stroke-width="1.1"/>
<text x="90.39999999999999" y="418.8" font-size="7" font-weight="bold" text-anchor="end" fill="#000" font-style="normal" stroke="#000" stroke-width="0.4" >400</text>
<line x1="90.8" y1="435.0" x2="93.8" y2="435.0" stroke="#000" stroke-width="1.1"/>
<text x="90.39999999999999" y="437.5" font-size="7" font-weight="bold" text-anchor="end" fill="#000" font-style="normal" stroke="#000" stroke-width="0.4" >200</text>
<line x1="90.8" y1="453.7" x2="93.8" y2="453.7" stroke="#000" stroke-width="1.1"/>
<text x="90.39999999999999" y="456.2" font-size="7" font-weight="bold" text-anchor="end" fill="#000" font-style="normal" stroke="#000" stroke-width="0.4" >0</text>
<line x1="235.0" y1="359.9" x2="238.0" y2="359.9" stroke="#000" stroke-width="1.1"/>
<text x="238.6" y="362.4" font-size="7" font-weight="bold" text-anchor="start" fill="#000" font-style="normal" stroke="#000" stroke-width="0.4" >300</text>
<line x1="235.0" y1="391.1" x2="238.0" y2="391.1" stroke="#000" stroke-width="1.1"/>
<text x="238.6" y="393.6" font-size="7" font-weight="bold" text-anchor="start" fill="#000" font-style="normal" stroke="#000" stroke-width="0.4" >200</text>
<line x1="235.0" y1="422.3" x2="238.0" y2="422.3" stroke="#000" stroke-width="1.1"/>
<text x="238.6" y="424.8" font-size="7" font-weight="bold" text-anchor="start" fill="#000" font-style="normal" stroke="#000" stroke-width="0.4" >100</text>
<line x1="235.0" y1="453.5" x2="238.0" y2="453.5" stroke="#000" stroke-width="1.1"/>
<text x="238.6" y="456.0" font-size="7" font-weight="bold" text-anchor="start" fill="#000" font-style="normal" stroke="#000" stroke-width="0.4" >0</text>
<line x1="100.0" y1="453.5" x2="100.0" y2="455.9" stroke="#000" stroke-width="1.1"/>
<text x="100.2" y="462.9" font-size="7.2" font-weight="bold" text-anchor="middle" fill="#000" font-style="normal" stroke="#000" stroke-width="0.4" >1m</text>
<line x1="113.4" y1="453.5" x2="113.4" y2="455.9" stroke="#000" stroke-width="1.1"/>
<text x="113.60000000000001" y="462.9" font-size="7.2" font-weight="bold" text-anchor="middle" fill="#000" font-style="normal" stroke="#000" stroke-width="0.4" >3m</text>
<line x1="126.5" y1="453.5" x2="126.5" y2="455.9" stroke="#000" stroke-width="1.1"/>
<text x="126.7" y="462.9" font-size="7.2" font-weight="bold" text-anchor="middle" fill="#000" font-style="normal" stroke="#000" stroke-width="0.4" >6m</text>
<line x1="139.5" y1="453.5" x2="139.5" y2="455.9" stroke="#000" stroke-width="1.1"/>
<text x="139.7" y="462.9" font-size="7.2" font-weight="bold" text-anchor="middle" fill="#000" font-style="normal" stroke="#000" stroke-width="0.4" >9m</text>
<line x1="152.3" y1="453.5" x2="152.3" y2="455.9" stroke="#000" stroke-width="1.1"/>
<text x="152.5" y="462.9" font-size="7.2" font-weight="bold" text-anchor="middle" fill="#000" font-style="normal" stroke="#000" stroke-width="0.4" >12m</text>
<line x1="174.4" y1="453.5" x2="174.4" y2="455.9" stroke="#000" stroke-width="1.1"/>
<text x="174.6" y="462.9" font-size="7.2" font-weight="bold" text-anchor="middle" fill="#000" font-style="normal" stroke="#000" stroke-width="0.4" >1m</text>
<line x1="187.8" y1="453.5" x2="187.8" y2="455.9" stroke="#000" stroke-width="1.1"/>
<text x="188.0" y="462.9" font-size="7.2" font-weight="bold" text-anchor="middle" fill="#000" font-style="normal" stroke="#000" stroke-width="0.4" >3m</text>
<line x1="200.6" y1="453.5" x2="200.6" y2="455.9" stroke="#000" stroke-width="1.1"/>
<text x="200.79999999999998" y="462.9" font-size="7.2" font-weight="bold" text-anchor="middle" fill="#000" font-style="normal" stroke="#000" stroke-width="0.4" >6m</text>
<line x1="214.0" y1="453.5" x2="214.0" y2="455.9" stroke="#000" stroke-width="1.1"/>
<text x="214.2" y="462.9" font-size="7.2" font-weight="bold" text-anchor="middle" fill="#000" font-style="normal" stroke="#000" stroke-width="0.4" >9m</text>
<line x1="227.0" y1="453.5" x2="227.0" y2="455.9" stroke="#000" stroke-width="1.1"/>
<text x="227.2" y="462.9" font-size="7.2" font-weight="bold" text-anchor="middle" fill="#000" font-style="normal" stroke="#000" stroke-width="0.4" >12m</text>
<line x1="100.1" y1="388.0" x2="100.1" y2="438.7" stroke="#000" stroke-width="1.5"/>
<line x1="97.3" y1="388.0" x2="102.9" y2="388.0" stroke="#000" stroke-width="1.5"/>
<line x1="97.3" y1="438.7" x2="102.9" y2="438.7" stroke="#000" stroke-width="1.5"/>
<circle cx="100.1" cy="413.2" r="2.7" fill="#000"/>
<line x1="113.1" y1="430.7" x2="113.1" y2="445.2" stroke="#000" stroke-width="1.5"/>
<line x1="110.3" y1="430.7" x2="115.9" y2="430.7" stroke="#000" stroke-width="1.5"/>
<line x1="110.3" y1="445.2" x2="115.9" y2="445.2" stroke="#000" stroke-width="1.5"/>
<rect x="110.39999999999999" y="435.3" width="5.4" height="5.4" fill="#000"/>
<line x1="126.4" y1="413.6" x2="126.4" y2="441.6" stroke="#000" stroke-width="1.5"/>
<line x1="123.6" y1="413.6" x2="129.2" y2="413.6" stroke="#000" stroke-width="1.5"/>
<line x1="123.6" y1="441.6" x2="129.2" y2="441.6" stroke="#000" stroke-width="1.5"/>
<polygon points="123.4,430.35 129.4,430.35 126.4,424.65000000000003" fill="#000"/>
<line x1="139.6" y1="419.1" x2="139.6" y2="437.5" stroke="#000" stroke-width="1.5"/>
<line x1="136.8" y1="419.1" x2="142.4" y2="419.1" stroke="#000" stroke-width="1.5"/>
<line x1="136.8" y1="437.5" x2="142.4" y2="437.5" stroke="#000" stroke-width="1.5"/>
<polygon points="136.6,425.25 142.6,425.25 139.6,430.95" fill="#000"/>
<line x1="152.7" y1="424.6" x2="152.7" y2="433.3" stroke="#000" stroke-width="1.5"/>
<line x1="149.9" y1="424.6" x2="155.5" y2="424.6" stroke="#000" stroke-width="1.5"/>
<line x1="149.9" y1="433.3" x2="155.5" y2="433.3" stroke="#000" stroke-width="1.5"/>
<polygon points="149.7,426.45 155.7,426.45 152.7,432.15" fill="#000"/>
<line x1="174.4" y1="424.3" x2="174.4" y2="435.0" stroke="#5050d0" stroke-width="1.5"/>
<line x1="171.6" y1="424.3" x2="177.2" y2="424.3" stroke="#5050d0" stroke-width="1.5"/>
<line x1="171.6" y1="435.0" x2="177.2" y2="435.0" stroke="#5050d0" stroke-width="1.5"/>
<polygon points="174.4,426.4 177.4,429.7 174.4,433.0 171.4,429.7" fill="#5050d0"/>
<line x1="187.9" y1="421.9" x2="187.9" y2="438.3" stroke="#5050d0" stroke-width="1.5"/>
<line x1="185.1" y1="421.9" x2="190.7" y2="421.9" stroke="#5050d0" stroke-width="1.5"/>
<line x1="185.1" y1="438.3" x2="190.7" y2="438.3" stroke="#5050d0" stroke-width="1.5"/>
<circle cx="187.9" cy="430.0" r="2.7" fill="#5050d0"/>
<line x1="200.7" y1="426.2" x2="200.7" y2="435.0" stroke="#5050d0" stroke-width="1.5"/>
<line x1="197.9" y1="426.2" x2="203.5" y2="426.2" stroke="#5050d0" stroke-width="1.5"/>
<line x1="197.9" y1="435.0" x2="203.5" y2="435.0" stroke="#5050d0" stroke-width="1.5"/>
<rect x="198.0" y="427.6" width="5.4" height="5.4" fill="#5050d0"/>
<line x1="214.1" y1="417.2" x2="214.1" y2="429.3" stroke="#5050d0" stroke-width="1.5"/>
<line x1="211.3" y1="417.2" x2="216.9" y2="417.2" stroke="#5050d0" stroke-width="1.5"/>
<line x1="211.3" y1="429.3" x2="216.9" y2="429.3" stroke="#5050d0" stroke-width="1.5"/>
<polygon points="214.1,420.0 217.1,423.3 214.1,426.6 211.1,423.3" fill="#5050d0"/>
<line x1="226.9" y1="402.4" x2="226.9" y2="438.7" stroke="#5050d0" stroke-width="1.5"/>
<line x1="224.1" y1="402.4" x2="229.7" y2="402.4" stroke="#5050d0" stroke-width="1.5"/>
<line x1="224.1" y1="438.7" x2="229.7" y2="438.7" stroke="#5050d0" stroke-width="1.5"/>
<polygon points="223.9,423.75 229.9,423.75 226.9,418.05" fill="#5050d0"/>
<text transform="translate(71.1,406.6) rotate(-90)" font-size="8.8" font-weight="bold" stroke="#000" stroke-width="0.4" text-anchor="middle" textLength="106.4" lengthAdjust="spacingAndGlyphs">CD8<tspan dy="-3.3" font-size="5.5">+</tspan><tspan dy="3.3">CD45RO<tspan dy="-3.3" font-size="5.5">+</tspan><tspan dy="3.3"> T cells/μL</tspan></tspan></text>
<text transform="translate(264.6,406.9) rotate(-90)" font-size="8.8" font-weight="bold" fill="#5050d0" stroke="#5050d0" stroke-width="0.4" text-anchor="middle" textLength="107.2" lengthAdjust="spacingAndGlyphs">CD4<tspan dy="-3.3" font-size="5.5">+</tspan><tspan dy="3.3">CD45RO<tspan dy="-3.3" font-size="5.5">+</tspan><tspan dy="3.3"> T cells/μL</tspan></tspan></text>
<text x="88.8" y="483.6" font-size="10.3" font-weight="bold" text-anchor="end" fill="#000" font-style="normal" stroke="#000" stroke-width="0.4" textLength="50.2" lengthAdjust="spacingAndGlyphs" >Pts. at risk</text>
<text x="100.1" y="483.6" font-size="9.3" font-weight="bold" text-anchor="middle" fill="#000" font-style="italic" stroke="#000" stroke-width="0.4" >23</text>
<text x="114.5" y="483.6" font-size="9.3" font-weight="bold" text-anchor="middle" fill="#000" font-style="italic" stroke="#000" stroke-width="0.4" >23</text>
<text x="128.3" y="483.6" font-size="9.3" font-weight="bold" text-anchor="middle" fill="#000" font-style="italic" stroke="#000" stroke-width="0.4" >20</text>
<text x="142.3" y="483.6" font-size="9.3" font-weight="bold" text-anchor="middle" fill="#000" font-style="italic" stroke="#000" stroke-width="0.4" >19</text>
<text x="156.9" y="483.6" font-size="9.3" font-weight="bold" text-anchor="middle" fill="#000" font-style="italic" stroke="#000" stroke-width="0.4" >15</text>
<text x="176.5" y="483.6" font-size="9.3" font-weight="bold" text-anchor="middle" fill="#000" font-style="italic" stroke="#000" stroke-width="0.4" >23</text>
<text x="190.4" y="483.6" font-size="9.3" font-weight="bold" text-anchor="middle" fill="#000" font-style="italic" stroke="#000" stroke-width="0.4" >23</text>
<text x="204.9" y="483.6" font-size="9.3" font-weight="bold" text-anchor="middle" fill="#000" font-style="italic" stroke="#000" stroke-width="0.4" >20</text>
<text x="219.2" y="483.6" font-size="9.3" font-weight="bold" text-anchor="middle" fill="#000" font-style="italic" stroke="#000" stroke-width="0.4" >19</text>
<text x="233.5" y="483.6" font-size="9.3" font-weight="bold" text-anchor="middle" fill="#000" font-style="italic" stroke="#000" stroke-width="0.4" >15</text>
<line x1="328.4" y1="359.6" x2="328.4" y2="453.4" stroke="#000" stroke-width="1.4"/>
<line x1="328.4" y1="453.4" x2="469.5" y2="453.4" stroke="#000" stroke-width="1.4"/>
<line x1="469.5" y1="359.6" x2="469.5" y2="453.4" stroke="#000" stroke-width="1.4"/>
<line x1="325.4" y1="359.9" x2="328.4" y2="359.9" stroke="#000" stroke-width="1.1"/>
<text x="325.0" y="362.4" font-size="7" font-weight="bold" text-anchor="end" fill="#000" font-style="normal" stroke="#000" stroke-width="0.4" >450</text>
<line x1="325.4" y1="378.6" x2="328.4" y2="378.6" stroke="#000" stroke-width="1.1"/>
<text x="325.0" y="381.1" font-size="7" font-weight="bold" text-anchor="end" fill="#000" font-style="normal" stroke="#000" stroke-width="0.4" >360</text>
<line x1="325.4" y1="397.4" x2="328.4" y2="397.4" stroke="#000" stroke-width="1.1"/>
<text x="325.0" y="399.9" font-size="7" font-weight="bold" text-anchor="end" fill="#000" font-style="normal" stroke="#000" stroke-width="0.4" >270</text>
<line x1="325.4" y1="416.2" x2="328.4" y2="416.2" stroke="#000" stroke-width="1.1"/>
<text x="325.0" y="418.7" font-size="7" font-weight="bold" text-anchor="end" fill="#000" font-style="normal" stroke="#000" stroke-width="0.4" >180</text>
<line x1="325.4" y1="435.0" x2="328.4" y2="435.0" stroke="#000" stroke-width="1.1"/>
<text x="325.0" y="437.5" font-size="7" font-weight="bold" text-anchor="end" fill="#000" font-style="normal" stroke="#000" stroke-width="0.4" >90</text>
<line x1="325.4" y1="453.5" x2="328.4" y2="453.5" stroke="#000" stroke-width="1.1"/>
<text x="325.0" y="456.0" font-size="7" font-weight="bold" text-anchor="end" fill="#000" font-style="normal" stroke="#000" stroke-width="0.4" >0</text>
<line x1="469.5" y1="359.9" x2="472.5" y2="359.9" stroke="#000" stroke-width="1.1"/>
<text x="473.1" y="362.4" font-size="7" font-weight="bold" text-anchor="start" fill="#000" font-style="normal" stroke="#000" stroke-width="0.4" >600</text>
<line x1="469.5" y1="383.3" x2="472.5" y2="383.3" stroke="#000" stroke-width="1.1"/>
<text x="473.1" y="385.8" font-size="7" font-weight="bold" text-anchor="start" fill="#000" font-style="normal" stroke="#000" stroke-width="0.4" >450</text>
<line x1="469.5" y1="406.7" x2="472.5" y2="406.7" stroke="#000" stroke-width="1.1"/>
<text x="473.1" y="409.2" font-size="7" font-weight="bold" text-anchor="start" fill="#000" font-style="normal" stroke="#000" stroke-width="0.4" >300</text>
<line x1="469.5" y1="430.0" x2="472.5" y2="430.0" stroke="#000" stroke-width="1.1"/>
<text x="473.1" y="432.5" font-size="7" font-weight="bold" text-anchor="start" fill="#000" font-style="normal" stroke="#000" stroke-width="0.4" >150</text>
<line x1="469.5" y1="453.4" x2="472.5" y2="453.4" stroke="#000" stroke-width="1.1"/>
<text x="473.1" y="455.9" font-size="7" font-weight="bold" text-anchor="start" fill="#000" font-style="normal" stroke="#000" stroke-width="0.4" >0</text>
<line x1="335.0" y1="453.4" x2="335.0" y2="455.8" stroke="#000" stroke-width="1.1"/>
<text x="335.2" y="462.79999999999995" font-size="7.2" font-weight="bold" text-anchor="middle" fill="#000" font-style="normal" stroke="#000" stroke-width="0.4" >1m</text>
<line x1="348.0" y1="453.4" x2="348.0" y2="455.8" stroke="#000" stroke-width="1.1"/>
<text x="348.2" y="462.79999999999995" font-size="7.2" font-weight="bold" text-anchor="middle" fill="#000" font-style="normal" stroke="#000" stroke-width="0.4" >3m</text>
<line x1="361.0" y1="453.4" x2="361.0" y2="455.8" stroke="#000" stroke-width="1.1"/>
<text x="361.2" y="462.79999999999995" font-size="7.2" font-weight="bold" text-anchor="middle" fill="#000" font-style="normal" stroke="#000" stroke-width="0.4" >6m</text>
<line x1="374.0" y1="453.4" x2="374.0" y2="455.8" stroke="#000" stroke-width="1.1"/>
<text x="374.2" y="462.79999999999995" font-size="7.2" font-weight="bold" text-anchor="middle" fill="#000" font-style="normal" stroke="#000" stroke-width="0.4" >9m</text>
<line x1="387.0" y1="453.4" x2="387.0" y2="455.8" stroke="#000" stroke-width="1.1"/>
<text x="387.2" y="462.79999999999995" font-size="7.2" font-weight="bold" text-anchor="middle" fill="#000" font-style="normal" stroke="#000" stroke-width="0.4" >12m</text>
<line x1="409.2" y1="453.4" x2="409.2" y2="455.8" stroke="#000" stroke-width="1.1"/>
<text x="409.4" y="462.79999999999995" font-size="7.2" font-weight="bold" text-anchor="middle" fill="#000" font-style="normal" stroke="#000" stroke-width="0.4" >1m</text>
<line x1="422.5" y1="453.4" x2="422.5" y2="455.8" stroke="#000" stroke-width="1.1"/>
<text x="422.7" y="462.79999999999995" font-size="7.2" font-weight="bold" text-anchor="middle" fill="#000" font-style="normal" stroke="#000" stroke-width="0.4" >3m</text>
<line x1="435.2" y1="453.4" x2="435.2" y2="455.8" stroke="#000" stroke-width="1.1"/>
<text x="435.4" y="462.79999999999995" font-size="7.2" font-weight="bold" text-anchor="middle" fill="#000" font-style="normal" stroke="#000" stroke-width="0.4" >6m</text>
<line x1="448.5" y1="453.4" x2="448.5" y2="455.8" stroke="#000" stroke-width="1.1"/>
<text x="448.7" y="462.79999999999995" font-size="7.2" font-weight="bold" text-anchor="middle" fill="#000" font-style="normal" stroke="#000" stroke-width="0.4" >9m</text>
<line x1="461.1" y1="453.4" x2="461.1" y2="455.8" stroke="#000" stroke-width="1.1"/>
<text x="461.3" y="462.79999999999995" font-size="7.2" font-weight="bold" text-anchor="middle" fill="#000" font-style="normal" stroke="#000" stroke-width="0.4" >12m</text>
<rect x="332.1" y="445.5" width="5.4" height="5.4" fill="#000"/>
<line x1="348.2" y1="441.9" x2="348.2" y2="452" stroke="#000" stroke-width="1.5"/>
<line x1="345.4" y1="441.9" x2="351.0" y2="441.9" stroke="#000" stroke-width="1.5"/>
<line x1="345.4" y1="452" x2="351.0" y2="452" stroke="#000" stroke-width="1.5"/>
<rect x="345.5" y="446.0" width="5.4" height="5.4" fill="#000"/>
<line x1="361.5" y1="428.1" x2="361.5" y2="443.0" stroke="#000" stroke-width="1.5"/>
<line x1="358.7" y1="428.1" x2="364.3" y2="428.1" stroke="#000" stroke-width="1.5"/>
<line x1="358.7" y1="443.0" x2="364.3" y2="443.0" stroke="#000" stroke-width="1.5"/>
<polygon points="358.5,438.95 364.5,438.95 361.5,433.25" fill="#000"/>
<line x1="374.5" y1="410.0" x2="374.5" y2="426.0" stroke="#000" stroke-width="1.5"/>
<line x1="371.7" y1="410.0" x2="377.3" y2="410.0" stroke="#000" stroke-width="1.5"/>
<line x1="371.7" y1="426.0" x2="377.3" y2="426.0" stroke="#000" stroke-width="1.5"/>
<polygon points="374.5,414.7 377.5,418.0 374.5,421.3 371.5,418.0" fill="#000"/>
<line x1="387.4" y1="386.9" x2="387.4" y2="408.7" stroke="#000" stroke-width="1.5"/>
<line x1="384.6" y1="386.9" x2="390.2" y2="386.9" stroke="#000" stroke-width="1.5"/>
<line x1="384.6" y1="408.7" x2="390.2" y2="408.7" stroke="#000" stroke-width="1.5"/>
<polygon points="384.4,394.65 390.4,394.65 387.4,400.34999999999997" fill="#000"/>
<polygon points="409.9,449.3 412.9,452.6 409.9,455.90000000000003 406.9,452.6" fill="#5050d0"/>
<circle cx="422.8" cy="450.1" r="2.7" fill="#5050d0"/>
<line x1="435.5" y1="442.3" x2="435.5" y2="447.5" stroke="#5050d0" stroke-width="1.5"/>
<line x1="432.7" y1="442.3" x2="438.3" y2="442.3" stroke="#5050d0" stroke-width="1.5"/>
<line x1="432.7" y1="447.5" x2="438.3" y2="447.5" stroke="#5050d0" stroke-width="1.5"/>
<rect x="432.8" y="442.2" width="5.4" height="5.4" fill="#5050d0"/>
<line x1="448.9" y1="399.7" x2="448.9" y2="419.0" stroke="#5050d0" stroke-width="1.5"/>
<line x1="446.1" y1="399.7" x2="451.7" y2="399.7" stroke="#5050d0" stroke-width="1.5"/>
<line x1="446.1" y1="419.0" x2="451.7" y2="419.0" stroke="#5050d0" stroke-width="1.5"/>
<polygon points="445.9,406.34999999999997 451.9,406.34999999999997 448.9,412.04999999999995" fill="#5050d0"/>
<line x1="462.0" y1="375.3" x2="462.0" y2="402.1" stroke="#5050d0" stroke-width="1.5"/>
<line x1="459.2" y1="375.3" x2="464.8" y2="375.3" stroke="#5050d0" stroke-width="1.5"/>
<line x1="459.2" y1="402.1" x2="464.8" y2="402.1" stroke="#5050d0" stroke-width="1.5"/>
<polygon points="459.0,392.25 465.0,392.25 462.0,386.55" fill="#5050d0"/>
<text transform="translate(305.4,405.9) rotate(-90)" font-size="8.8" font-weight="bold" stroke="#000" stroke-width="0.4" text-anchor="middle" textLength="105.2" lengthAdjust="spacingAndGlyphs">CD8<tspan dy="-3.3" font-size="5.5">+</tspan><tspan dy="3.3">CD45RA<tspan dy="-3.3" font-size="5.5">+</tspan><tspan dy="3.3"> T cells/μL</tspan></tspan></text>
<text transform="translate(500.4,405.9) rotate(-90)" font-size="8.8" font-weight="bold" fill="#5050d0" stroke="#5050d0" stroke-width="0.4" text-anchor="middle" textLength="105.5" lengthAdjust="spacingAndGlyphs">CD4<tspan dy="-3.3" font-size="5.5">+</tspan><tspan dy="3.3">CD45RA<tspan dy="-3.3" font-size="5.5">+</tspan><tspan dy="3.3"> T cells/μL</tspan></tspan></text>
<text x="323.3" y="483.6" font-size="10.3" font-weight="bold" text-anchor="end" fill="#000" font-style="normal" stroke="#000" stroke-width="0.4" textLength="50.2" lengthAdjust="spacingAndGlyphs" >Pts. at risk</text>
<text x="334.8" y="483.6" font-size="9.3" font-weight="bold" text-anchor="middle" fill="#000" font-style="italic" stroke="#000" stroke-width="0.4" >23</text>
<text x="349.2" y="483.6" font-size="9.3" font-weight="bold" text-anchor="middle" fill="#000" font-style="italic" stroke="#000" stroke-width="0.4" >23</text>
<text x="363.4" y="483.6" font-size="9.3" font-weight="bold" text-anchor="middle" fill="#000" font-style="italic" stroke="#000" stroke-width="0.4" >20</text>
<text x="377.4" y="483.6" font-size="9.3" font-weight="bold" text-anchor="middle" fill="#000" font-style="italic" stroke="#000" stroke-width="0.4" >19</text>
<text x="391.7" y="483.6" font-size="9.3" font-weight="bold" text-anchor="middle" fill="#000" font-style="italic" stroke="#000" stroke-width="0.4" >15</text>
<text x="411.7" y="483.6" font-size="9.3" font-weight="bold" text-anchor="middle" fill="#000" font-style="italic" stroke="#000" stroke-width="0.4" >23</text>
<text x="426.2" y="483.6" font-size="9.3" font-weight="bold" text-anchor="middle" fill="#000" font-style="italic" stroke="#000" stroke-width="0.4" >23</text>
<text x="440.3" y="483.6" font-size="9.3" font-weight="bold" text-anchor="middle" fill="#000" font-style="italic" stroke="#000" stroke-width="0.4" >20</text>
<text x="454.4" y="483.6" font-size="9.3" font-weight="bold" text-anchor="middle" fill="#000" font-style="italic" stroke="#000" stroke-width="0.4" >19</text>
<text x="468.6" y="483.6" font-size="9.3" font-weight="bold" text-anchor="middle" fill="#000" font-style="italic" stroke="#000" stroke-width="0.4" >15</text>
</svg>
</body></html>
